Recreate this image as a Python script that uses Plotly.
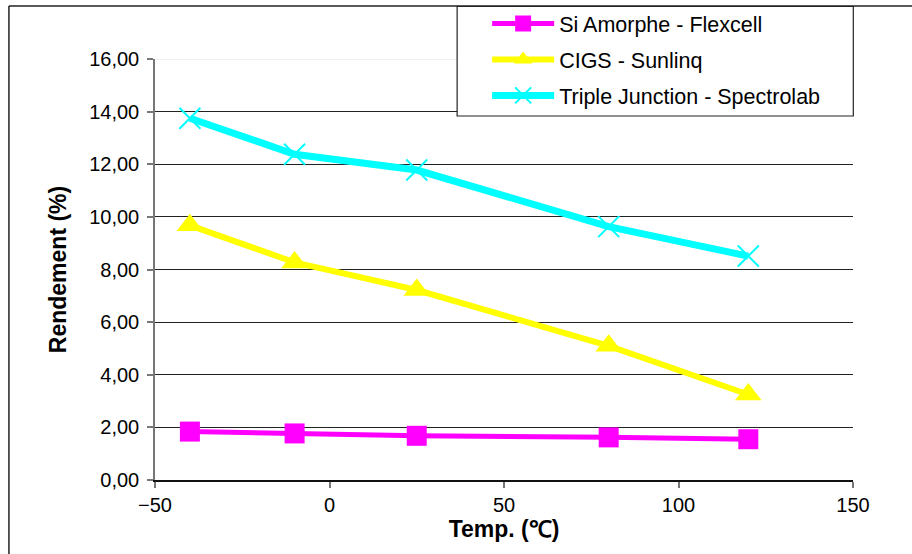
import plotly.graph_objects as go

temps = [-40, -10, 25, 80, 120]
si_amorphe = [1.84, 1.77, 1.68, 1.62, 1.55]
cigs = [9.68, 8.27, 7.22, 5.10, 3.25]
triple = [13.75, 12.38, 11.78, 9.63, 8.51]

names = ["Si Amorphe - Flexcell", "CIGS - Sunlinq", "Triple Junction - Spectrolab"]
y_ticks = [0, 2, 4, 6, 8, 10, 12, 14, 16]
x_ticks = [-50, 0, 50, 100, 150]

FONT = "Liberation Sans, Arial, sans-serif"

fig = go.Figure()
fig.add_trace(go.Scatter(
    x=temps, y=si_amorphe, name=names[0], mode="lines+markers", legendgroup="a",
    line=dict(color="#FF00FF", width=5),
    marker=dict(symbol="square", size=20, color="#FF00FF")))
fig.add_trace(go.Scatter(
    x=temps, y=cigs, name=names[1], mode="lines+markers", legendgroup="b",
    line=dict(color="#FFFF00", width=6),
    marker=dict(symbol="triangle-up", size=23, color="#FFFF00")))
fig.add_trace(go.Scatter(
    x=temps, y=triple, name=names[2], mode="lines+markers", legendgroup="c",
    line=dict(color="#00FFFF", width=7),
    marker=dict(symbol="x-thin", size=21, color="#00FFFF",
                line=dict(color="#00FFFF", width=2))))

x_left_px, x_right_px, y_top_px, y_bot_px = 155, 852.7, 59, 480
pw = x_right_px - x_left_px
ph = y_bot_px - y_top_px
def px(xp): return (xp - x_left_px) / pw
def py(yp): return (y_bot_px - yp) / ph

shapes = [
    dict(type="line", xref="paper", yref="y", x0=0, x1=1, y0=16, y1=16,
         line=dict(color="#e4e4e4", width=1)),
    dict(type="rect", xref="paper", yref="paper", x0=px(457), x1=px(853),
         y0=py(116), y1=py(6.5), line=dict(color="#222222", width=1.2),
         fillcolor="white", layer="above"),
    dict(type="line", xref="paper", yref="paper", x0=px(9), x1=px(9),
         y0=py(600), y1=py(6), line=dict(color="#222222", width=1.5)),
    dict(type="line", xref="paper", yref="paper", x0=px(9), x1=px(960),
         y0=py(6), y1=py(6), line=dict(color="#222222", width=1.5)),
]

fig.update_layout(
    width=912, height=554,
    margin=dict(l=x_left_px, r=912 - x_right_px, t=y_top_px, b=554 - y_bot_px, autoexpand=False),
    paper_bgcolor="white", plot_bgcolor="white",
    font=dict(family=FONT, size=20, color="black"),
    separators=",.",
    showlegend=True,
    legend=dict(x=px(487), y=py(3), xanchor="left", yanchor="top",
                bgcolor="rgba(0,0,0,0)", borderwidth=0,
                font=dict(family=FONT, size=21.5, color="black"),
                traceorder="grouped", tracegroupgap=5, itemwidth=62),
    shapes=shapes,
    xaxis=dict(range=[-50, 150], tickvals=x_ticks, showgrid=False, zeroline=False,
               showline=True, linecolor="#111111", linewidth=1.5,
               ticks="outside", ticklen=6, tickcolor="#777777", tickwidth=1.5,
               tickfont=dict(family=FONT, size=20),
               title=dict(text="<b>Temp. (℃)</b>", font=dict(family=FONT, size=23), standoff=4)),
    yaxis=dict(range=[0, 16], tickvals=y_ticks, tickformat=".2f",
               showgrid=True, gridcolor="#222222", gridwidth=1, zeroline=False,
               showline=True, linecolor="#777777", linewidth=1.5,
               ticks="outside", ticklen=6, tickcolor="#777777", tickwidth=1.5,
               tickfont=dict(family=FONT, size=20), ticklabelstandoff=4,
               title=dict(text="<b>Rendement (%)</b>", font=dict(family=FONT, size=23), standoff=16)),
)

fig.write_html("out.html", config={"displayModeBar": False},
               post_script="document.body.style.margin='0';document.body.style.padding='0';")
